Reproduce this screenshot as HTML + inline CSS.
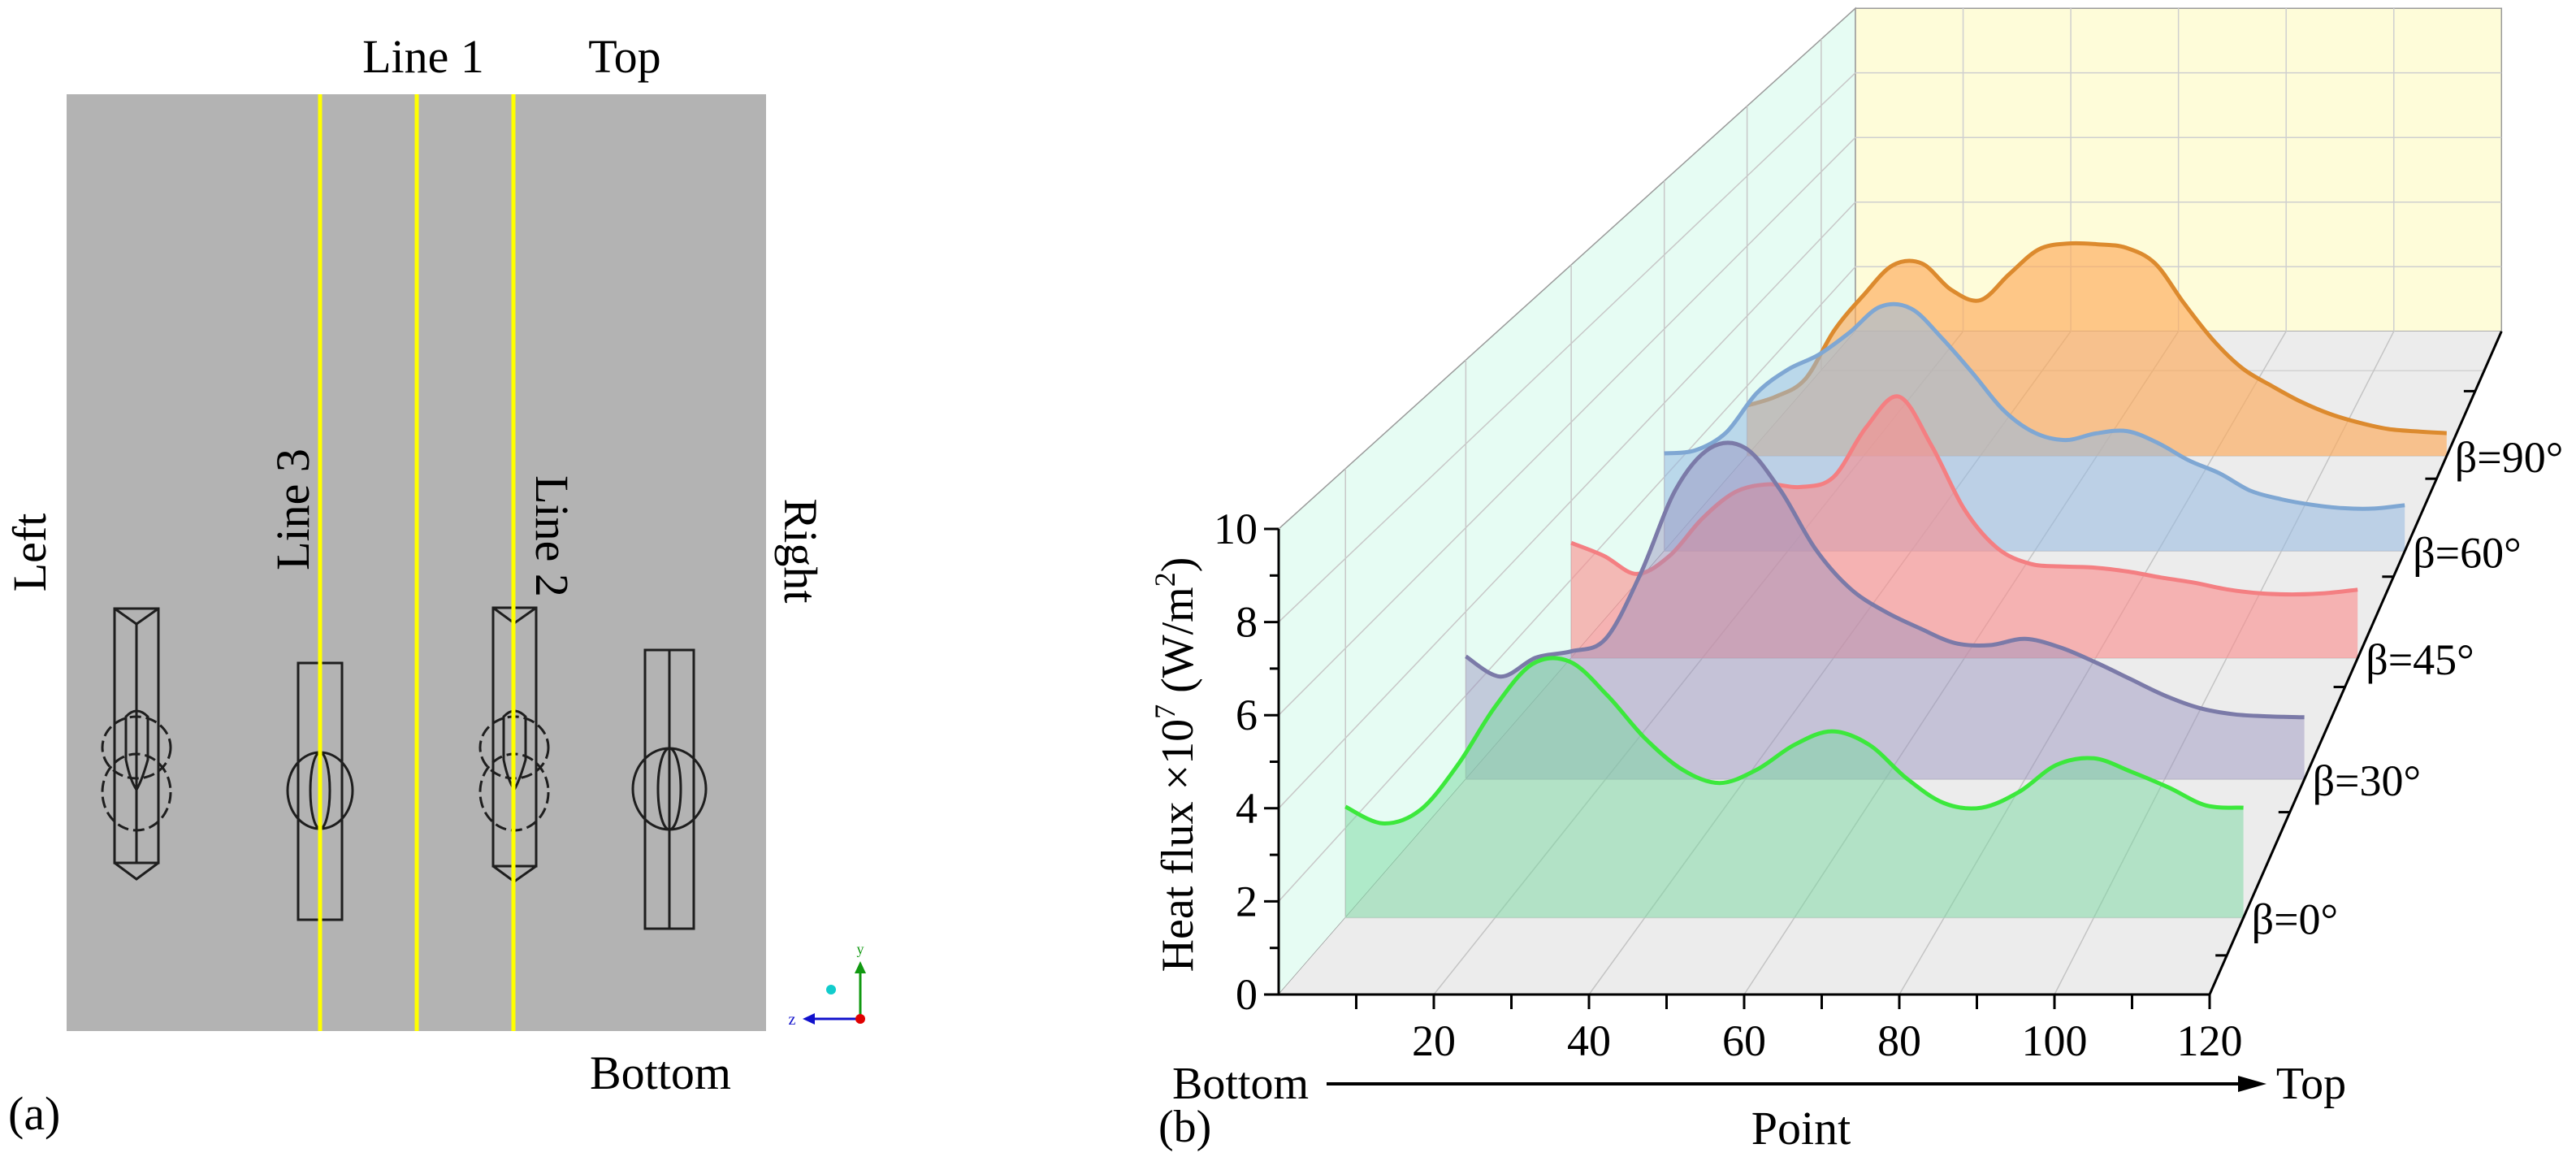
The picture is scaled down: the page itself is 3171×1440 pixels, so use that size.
<!DOCTYPE html>
<html><head><meta charset="utf-8"><style>
html,body{margin:0;padding:0;background:#fff;}
svg, svg text{font-family:"Liberation Serif",serif;}
</style></head><body>
<svg id="fig" width="3171" height="1435" viewBox="0 0 3171 1435" xmlns="http://www.w3.org/2000/svg" font-family="Liberation Serif, serif">
<g>
  <rect x="82" y="116" width="861" height="1153" fill="#b3b3b3"/>
  <g stroke="#1e1e1e" stroke-width="3" fill="none">
    <g>
      <rect x="141" y="749" width="54" height="313"/>
      <path d="M141 749 L168 768 L195 749 M168 768 L168 1062 M141 1062 L168 1082 L195 1062"/>
      <ellipse cx="168" cy="920" rx="42" ry="38" stroke-dasharray="14 6"/>
      <ellipse cx="168" cy="975" rx="42" ry="47" stroke-dasharray="14 6"/>
      <path d="M155 882 Q168 868 182 882 L182 935 Q175 960 168 972 Q160 960 155 935 Z"/>
    </g>
    <g>
      <rect x="367" y="816" width="54" height="316"/>
      <ellipse cx="394" cy="973" rx="40" ry="47"/>
      <ellipse cx="394" cy="973" rx="12" ry="47"/>
    </g>
    <g>
      <rect x="607" y="748" width="53" height="318"/>
      <path d="M607 748 L633 767 L660 748 M607 1066 L633 1085 L660 1066"/>
      <ellipse cx="633" cy="920" rx="42" ry="38" stroke-dasharray="14 6"/>
      <ellipse cx="633" cy="975" rx="42" ry="47" stroke-dasharray="14 6"/>
      <path d="M620 882 Q633 868 647 882 L647 935 Q640 960 633 972 Q625 960 620 935 Z"/>
    </g>
    <g>
      <rect x="794" y="800" width="60" height="343"/>
      <path d="M824 800 L824 1143"/>
      <ellipse cx="824" cy="971" rx="45" ry="50"/>
      <ellipse cx="824" cy="971" rx="14" ry="50"/>
    </g>
  </g>
  <line x1="394" y1="116" x2="394" y2="1269" stroke="#ffff00" stroke-width="5"/>
  <line x1="513" y1="116" x2="513" y2="1269" stroke="#ffff00" stroke-width="5"/>
  <line x1="632" y1="116" x2="632" y2="1269" stroke="#ffff00" stroke-width="5"/>
  <g font-size="58" fill="#000" font-family="Liberation Serif, serif">
    <text x="521" y="89" text-anchor="middle">Line 1</text>
    <text x="769" y="89" text-anchor="middle">Top</text>
    <text x="813" y="1340" text-anchor="middle">Bottom</text>
    <text transform="translate(56,680) rotate(-90)" text-anchor="middle">Left</text>
    <text transform="translate(380,627) rotate(-90)" text-anchor="middle">Line 3</text>
    <text transform="translate(660,660) rotate(90)" text-anchor="middle">Line 2</text>
    <text transform="translate(966,678) rotate(90)" text-anchor="middle">Right</text>
    <text x="10" y="1390">(a)</text>
  </g>
  <g>
    <line x1="1059" y1="1254" x2="1059" y2="1195" stroke="#119911" stroke-width="3"/>
    <path d="M1052 1198 L1059 1183 L1066 1198 Z" fill="#119911"/>
    <line x1="1059" y1="1254" x2="1000" y2="1254" stroke="#1111cc" stroke-width="3"/>
    <path d="M1003 1247 L988 1254 L1003 1261 Z" fill="#1111cc"/>
    <circle cx="1059" cy="1254" r="6" fill="#e00000"/>
    <circle cx="1023" cy="1218" r="6" fill="#11cccc"/>
    <text x="1059" y="1174" font-family="Liberation Sans,sans-serif" font-size="18" fill="#119911" text-anchor="middle">y</text>
    <text x="975" y="1261" font-family="Liberation Sans,sans-serif" font-size="20" fill="#1111cc" text-anchor="middle">z</text>
  </g>
</g>
<g id="chart" font-family="Liberation Serif, serif"></g>
</svg>
<script>
const points = [0,5,10,15,20,25,30,35,40,45,50,55,60,65,70,75,80,85,90,95,100,105,110,115,120];
const beta0  = [2.47,2.1,2.4,3.4,4.7,5.65,5.7,4.95,4.0,3.3,3.0,3.3,3.85,4.15,3.85,3.1,2.55,2.45,2.8,3.4,3.55,3.25,2.9,2.5,2.45];
const beta30 = [2.93,2.45,2.9,3.05,3.35,4.9,6.9,7.9,7.9,6.9,5.5,4.55,4.0,3.6,3.25,3.2,3.35,3.15,2.8,2.4,2.0,1.7,1.55,1.5,1.48];
const beta45 = [2.93,2.6,2.14,2.6,3.55,4.22,4.42,4.35,4.6,5.87,6.65,5.4,3.78,2.8,2.4,2.33,2.3,2.2,2.05,1.92,1.75,1.65,1.62,1.65,1.74];
const beta60 = [2.64,2.72,3.2,4.27,4.9,5.3,5.9,6.6,6.55,5.75,4.8,3.8,3.2,3.0,3.18,3.24,2.92,2.45,2.1,1.63,1.4,1.25,1.16,1.15,1.24];
const beta90 = [1.44,1.7,2.2,3.6,4.6,5.45,5.5,4.75,4.45,5.2,5.9,6.07,6.05,5.95,5.5,4.35,3.3,2.5,2.0,1.55,1.2,0.95,0.77,0.7,0.65];
const seriesLabels = ["β=0°","β=30°","β=45°","β=60°","β=90°"];
const zTicks = [0,2,4,6,8,10];
const xTicks = [20,40,60,80,100,120];

const NS="http://www.w3.org/2000/svg";
const g=document.getElementById('chart');
const VX=3894,VY=-1443,K=0.441;
function P(p,d,z){const s=1/(1+K*d);const X0=1574+p*1146/120;const Y0=1224-z*57.3;return [VX+(X0-VX)*s,VY+(Y0-VY)*s];}
function mk(tag,attrs,parent){const e=document.createElementNS(NS,tag);for(const k in attrs)e.setAttribute(k,attrs[k]);if(tag==='text')e.setAttribute('font-family','Liberation Serif, serif');(parent||g).appendChild(e);return e;}
function poly(pts){return 'M'+pts.map(q=>q[0].toFixed(1)+' '+q[1].toFixed(1)).join(' L')+' Z';}
function seg(a,b,st,w,name){const l=mk('line',{x1:a[0],y1:a[1],x2:b[0],y2:b[1],stroke:st,'stroke-width':w});

return l;}

let e=mk('path',{d:poly([P(0,0,0),P(0,1,0),P(0,1,10),P(0,0,10)]),fill:'#e6fcf3',stroke:'#9a9a9a','stroke-width':1.5});


e=mk('path',{d:poly([P(0,1,0),P(120,1,0),P(120,1,10),P(0,1,10)]),fill:'#fefcd9',stroke:'#9a9a9a','stroke-width':1.5});


e=mk('path',{d:poly([P(0,0,0),P(120,0,0),P(120,1,0),P(0,1,0)]),fill:'#ececec',stroke:'none'});


const depthOf=i=>(i+0.5)/6;
for(let z=2;z<10;z+=2){seg(P(0,0,z),P(0,1,z),'#c8c8c8',1.5,'left-wall-grid');seg(P(0,1,z),P(120,1,z),'#cfcfcf',1.5,'back-wall-grid');}
for(let i=0;i<6;i++){const d=depthOf(i);seg(P(0,d,0),P(0,d,10),'#c8c8c8',1.5,'left-wall-grid');seg(P(0,d,0),P(120,d,0),'#d2d2d2',1.5,'floor-grid');}
for(let p=20;p<120;p+=20){seg(P(p,1,0),P(p,1,10),'#cfcfcf',1.5,'back-wall-grid');seg(P(p,0,0),P(p,1,0),'#c4c4c4',1.5,'floor-grid');}

const series=[beta0,beta30,beta45,beta60,beta90];
const lineCol=['#3ce83c','#7b7aa8','#f47f82','#7fa7d3','#dc8a2e'];
const fillCol=['rgba(120,215,160,0.5)','rgba(150,145,190,0.45)','rgba(252,140,140,0.6)','rgba(150,185,225,0.55)','rgba(253,170,90,0.65)'];
const names=['beta-0','beta-30','beta-45','beta-60','beta-90'];
function smooth(pts){let d='M'+pts[0][0].toFixed(1)+' '+pts[0][1].toFixed(1);
 for(let i=0;i<pts.length-1;i++){const p0=pts[Math.max(0,i-1)],p1=pts[i],p2=pts[i+1],p3=pts[Math.min(pts.length-1,i+2)];
 const c1=[p1[0]+(p2[0]-p0[0])/6,p1[1]+(p2[1]-p0[1])/6],c2=[p2[0]-(p3[0]-p1[0])/6,p2[1]-(p3[1]-p1[1])/6];
 d+=' C'+c1.map(v=>v.toFixed(1)).join(' ')+' '+c2.map(v=>v.toFixed(1)).join(' ')+' '+p2[0].toFixed(1)+' '+p2[1].toFixed(1);}return d;}
for(let i=series.length-1;i>=0;i--){
 const d=depthOf(i);
 const pts=points.map((p,j)=>P(p,d,series[i][j]));
 const c=smooth(pts);
 const b0=P(points[points.length-1],d,0),b1=P(points[0],d,0);
 const f=mk('path',{d:c+' L'+b0[0].toFixed(1)+' '+b0[1].toFixed(1)+' L'+b1[0].toFixed(1)+' '+b1[1].toFixed(1)+' Z',fill:fillCol[i],stroke:'none'});
 
 
 const l=mk('path',{d:c,fill:'none',stroke:lineCol[i],'stroke-width':5,'stroke-linejoin':'round'});
 
 
}

seg(P(0,0,0),P(0,0,10),'#000',3,'z-axis');
seg(P(0,0,0),P(120,0,0),'#000',3,'x-axis');
seg(P(120,0,0),P(120,1,0),'#000',3,'depth-axis');
for(let z=0;z<=10;z++){const a=P(0,0,z);seg(a,[a[0]-(z%2?11:18),a[1]],'#000',3,'z-tick');}
zTicks.forEach(z=>{const a=P(0,0,z);const t=mk('text',{x:a[0]-26,y:a[1]+18,'font-size':54,'text-anchor':'end'});t.textContent=z;

});
for(let p=10;p<=120;p+=10){const a=P(p,0,0);seg(a,[a[0],a[1]+18],'#000',3,'x-tick');}
xTicks.forEach(p=>{const a=P(p,0,0);const t=mk('text',{x:a[0],y:a[1]+75,'font-size':54,'text-anchor':'middle'});t.textContent=p;

});
for(let k=0;k<12;k++){const a=P(120,(k+0.5)/12,0);seg(a,[a[0]-(k%2?0:14),a[1]],'#000',3,'depth-tick');}
seriesLabels.forEach((s,i)=>{const a=P(120,depthOf(i),0);const t=mk('text',{x:a[0]+10,y:a[1]+20,'font-size':54});t.textContent=s;

});

let t=mk('text',{transform:'translate(1468,941) rotate(-90)','font-size':56,'text-anchor':'middle'});


t.innerHTML='Heat flux ×10<tspan dy="-22" font-size="36">7</tspan><tspan dy="22"> (W/m</tspan><tspan dy="-22" font-size="36">2</tspan><tspan dy="22">)</tspan>';
t=mk('text',{x:1527,y:1352,'font-size':56,'text-anchor':'middle'});t.textContent='Bottom';


t=mk('text',{x:2845,y:1352,'font-size':56,'text-anchor':'middle'});t.textContent='Top';


seg([1633,1334],[2760,1334],'#000',4,'direction-arrow');
e=mk('path',{d:'M2790 1334 L2755 1324 L2755 1344 Z',fill:'#000'});


t=mk('text',{x:1426,y:1405,'font-size':56});t.textContent='(b)';


t=mk('text',{x:2217,y:1408,'font-size':58,'text-anchor':'middle'});t.textContent='Point';


</script>
</body></html>
